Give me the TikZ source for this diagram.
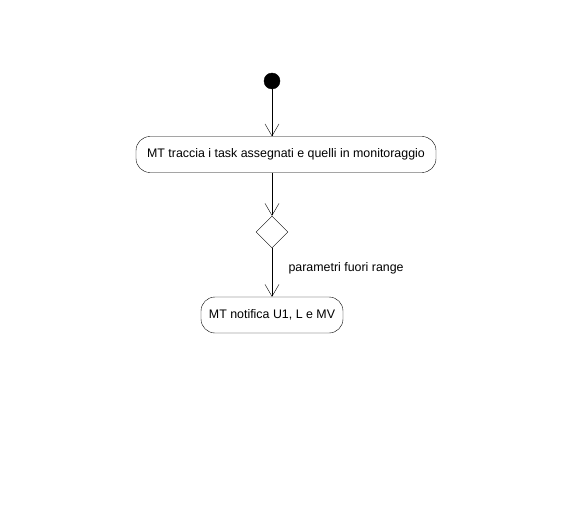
\documentclass[tikz,border=0pt]{standalone}
\usepackage{fontspec}
\setmainfont{Liberation Sans}
\usetikzlibrary{shapes.geometric,arrows.meta}
\tikzset{
  act/.style={draw, rounded corners=14pt, minimum height=36pt, inner sep=0pt, font=\fontsize{12.4}{14}\selectfont},
  flow/.style={draw, -{Straight Barb[length=12pt,width=14pt]}},
  dec/.style={draw, diamond, minimum width=32pt, minimum height=32pt, inner sep=0pt, aspect=1},
  lbl/.style={font=\fontsize{12.4}{14}\selectfont, anchor=west}
}
\begin{document}
\begin{tikzpicture}[x=1pt,y=-1pt]
\useasboundingbox (0,0) rectangle (573,532);
\node[circle, fill=black, draw=black, minimum size=16pt, inner sep=0pt] (start) at (272,81) {};
\node[act, minimum width=300pt] (a1) at (286,154.5) {MT traccia i task assegnati e quelli in monitoraggio};
\node[dec] (d) at (272,232) {};
\node[act, minimum width=142pt] (a2) at (272,315) {MT notifica U1, L e MV};
\draw[flow] (start) -- (start |- a1.north);
\draw[flow] (a1.south -| d) -- (d.north);
\draw[flow] (d.south) -- (a2.north);
\node[lbl] (l) at (285,268) {parametri fuori range};
\end{tikzpicture}
\end{document}
